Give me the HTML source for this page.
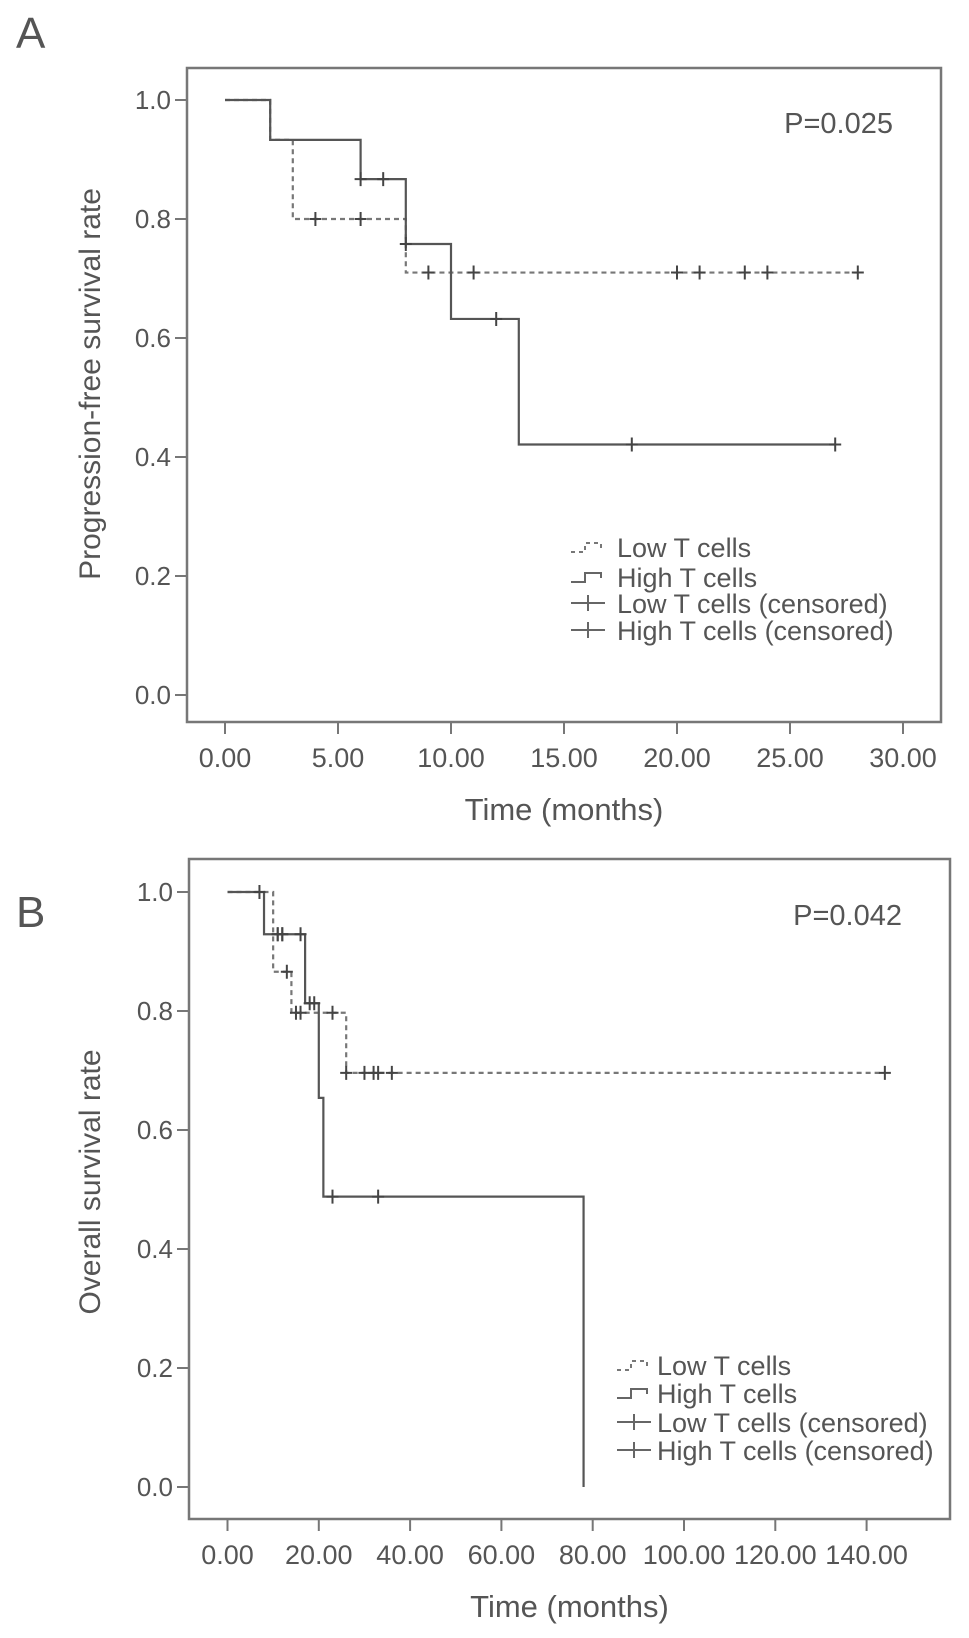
<!DOCTYPE html>
<html><head><meta charset="utf-8"><style>
html,body{margin:0;padding:0;background:#fff;}
svg{display:block;}
text{font-family:"Liberation Sans",sans-serif;fill:#555;}
</style></head><body>
<svg id="fig" width="969" height="1638" viewBox="0 0 969 1638">
<text x="16" y="48" font-size="44">A</text>
<text x="16" y="927" font-size="44">B</text>
</svg>
<script>
// Panel A data (progression-free survival)
const aLowSteps = [[0,1.0],[2,0.933],[3,0.80],[8,0.71],[28,0.71]];
const aHighSteps = [[0,1.0],[2,0.933],[6,0.867],[8,0.758],[10,0.632],[13,0.421],[27,0.421]];
const aLowCensT = [4,6,9,11,20,21,23,24,28];
const aLowCensS = [0.80,0.80,0.71,0.71,0.71,0.71,0.71,0.71,0.71];
const aHighCensT = [6,7,8,12,18,27];
const aHighCensS = [0.867,0.867,0.758,0.632,0.421,0.421];
const aXTicks = [0,5,10,15,20,25,30];
const aXLabels = ["0.00","5.00","10.00","15.00","20.00","25.00","30.00"];
const yTicks = [0,0.2,0.4,0.6,0.8,1.0];
const yLabels = ["0.0","0.2","0.4","0.6","0.8","1.0"];
// Panel B data (overall survival)
const bLowSteps = [[0,1.0],[10,0.866],[14,0.797],[26,0.696],[144,0.696]];
const bHighSteps = [[0,1.0],[8,0.929],[17,0.813],[20,0.654],[21,0.488],[78,0.0]];
const bLowCensT = [11,12,13,15,16,23,26,30,32,33,36,144];
const bLowCensS = [0.929,0.929,0.866,0.797,0.797,0.797,0.696,0.696,0.696,0.696,0.696,0.696];
const bHighCensT = [7,11,12,16,18,19,23,33];
const bHighCensS = [1.0,0.929,0.929,0.929,0.813,0.813,0.488,0.488];
const bXTicks = [0,20,40,60,80,100,120,140];
const bXLabels = ["0.00","20.00","40.00","60.00","80.00","100.00","120.00","140.00"];

const svg = document.getElementById('fig');
const NS = 'http://www.w3.org/2000/svg';
function mk(tag, attrs, parent){
  const e = document.createElementNS(NS, tag);
  for (const k in attrs) e.setAttribute(k, attrs[k]);
  (parent||svg).appendChild(e); return e;
}
function panel(cfg){
  const g = mk('g', {});
  
  
  const X = t => cfg.x0 + t*cfg.px;
  const Y = s => cfg.y0 - s*cfg.py;
  const frame = mk('rect', {x:cfg.fl, y:cfg.ft, width:cfg.fr-cfg.fl, height:cfg.fb-cfg.ft, fill:'none', stroke:'#777', 'stroke-width':2.5}, g);
  
  
  yTicks.forEach((v,i)=>{
    mk('line',{x1:cfg.fl-12,x2:cfg.fl,y1:Y(v),y2:Y(v),stroke:'#777','stroke-width':2},g);
    const t = mk('text',{x:cfg.fl-16,y:Y(v)+9,'font-size':26,'text-anchor':'end'},g);
    t.textContent = yLabels[i];
    
    
  });
  cfg.xt.forEach((v,i)=>{
    mk('line',{x1:X(v),x2:X(v),y1:cfg.fb,y2:cfg.fb+12,stroke:'#777','stroke-width':2},g);
    const t = mk('text',{x:X(v),y:cfg.fb+45,'font-size':27,'text-anchor':'middle'},g);
    t.textContent = cfg.xl[i];
    
    
  });
  const xt = mk('text',{x:(cfg.fl+cfg.fr)/2,y:cfg.fb+98,'font-size':31,'text-anchor':'middle'},g);
  xt.textContent = 'Time (months)';
  
  
  const yt = mk('text',{x:0,y:0,'font-size':30,'text-anchor':'middle',transform:`translate(${cfg.ylx},${cfg.yly}) rotate(-90)`},g);
  yt.textContent = cfg.ylabel;
  
  
  const p = mk('text',{x:cfg.fr-48,y:cfg.py_y,'font-size':29,'text-anchor':'end'},g);
  p.textContent = cfg.pval;
  
  
  return {g,X,Y};
}
function stepPath(steps, X, Y){
  let d = `M${X(steps[0][0])},${Y(steps[0][1])}`;
  for (let i=1;i<steps.length;i++){
    d += ` H${X(steps[i][0])} V${Y(steps[i][1])}`;
  }
  return d;
}
function censors(ts, ss, X, Y, g, name){
  ts.forEach((t,i)=>{
    const l = mk('path',{d:`M${X(t)-6},${Y(ss[i])} H${X(t)+6} M${X(t)},${Y(ss[i])-7} V${Y(ss[i])+7}`,stroke:'#444','stroke-width':2,fill:'none'},g);
    
    
  });
}
function legend(g, lx, tx, ys){
  const labels = ['Low T cells','High T cells','Low T cells (censored)','High T cells (censored)'];
  labels.forEach((s,i)=>{
    const y = ys[i];
    let sym;
    if (i===0) sym = mk('path',{d:`M${lx},${y+5} H${lx+14} V${y-4} H${lx+30} V${y+1}`,stroke:'#777','stroke-width':2,fill:'none','stroke-dasharray':'4,4'},g);
    else if (i===1) sym = mk('path',{d:`M${lx},${y+5} H${lx+14} V${y-4} H${lx+30} V${y+1}`,stroke:'#666','stroke-width':2,fill:'none'},g);
    else sym = mk('path',{d:`M${lx},${y} H${lx+34} M${lx+17},${y-8} V${y+8}`,stroke:'#666','stroke-width':2,fill:'none'},g);
    
    
    const t = mk('text',{x:tx,y:y+10,'font-size':27},g);
    t.textContent = s;
    
    
  });
}
// Panel A
const A = panel({name:'panel-a-chart',x0:225,px:22.6,y0:695,py:595,fl:187,ft:68,fr:941,fb:722,
  xt:aXTicks,xl:aXLabels,ylabel:'Progression-free survival rate',ylx:100,yly:384,pval:'P=0.025',py_y:133});
const aLow = mk('path',{d:stepPath(aLowSteps,A.X,A.Y),stroke:'#777','stroke-width':2.2,fill:'none','stroke-dasharray':'5,4'},A.g);


const aHigh = mk('path',{d:stepPath(aHighSteps,A.X,A.Y),stroke:'#555','stroke-width':2.2,fill:'none'},A.g);


censors(aLowCensT,aLowCensS,A.X,A.Y,A.g,'low-censor-mark');
censors(aHighCensT,aHighCensS,A.X,A.Y,A.g,'high-censor-mark');
legend(A.g,571,617,[547,577,603,630]);
// Panel B
const B = panel({name:'panel-b-chart',x0:227.5,px:4.565,y0:1487,py:595,fl:189,ft:859,fr:950,fb:1519,
  xt:bXTicks,xl:bXLabels,ylabel:'Overall survival rate',ylx:100,yly:1182,pval:'P=0.042',py_y:925});
const bLow = mk('path',{d:stepPath(bLowSteps,B.X,B.Y),stroke:'#777','stroke-width':2.2,fill:'none','stroke-dasharray':'5,4'},B.g);


const bHigh = mk('path',{d:stepPath(bHighSteps,B.X,B.Y),stroke:'#555','stroke-width':2.2,fill:'none'},B.g);


censors(bLowCensT,bLowCensS,B.X,B.Y,B.g,'low-censor-mark');
censors(bHighCensT,bHighCensS,B.X,B.Y,B.g,'high-censor-mark');
legend(B.g,617,657,[1365,1393,1422,1450]);
</script>
</body></html>
